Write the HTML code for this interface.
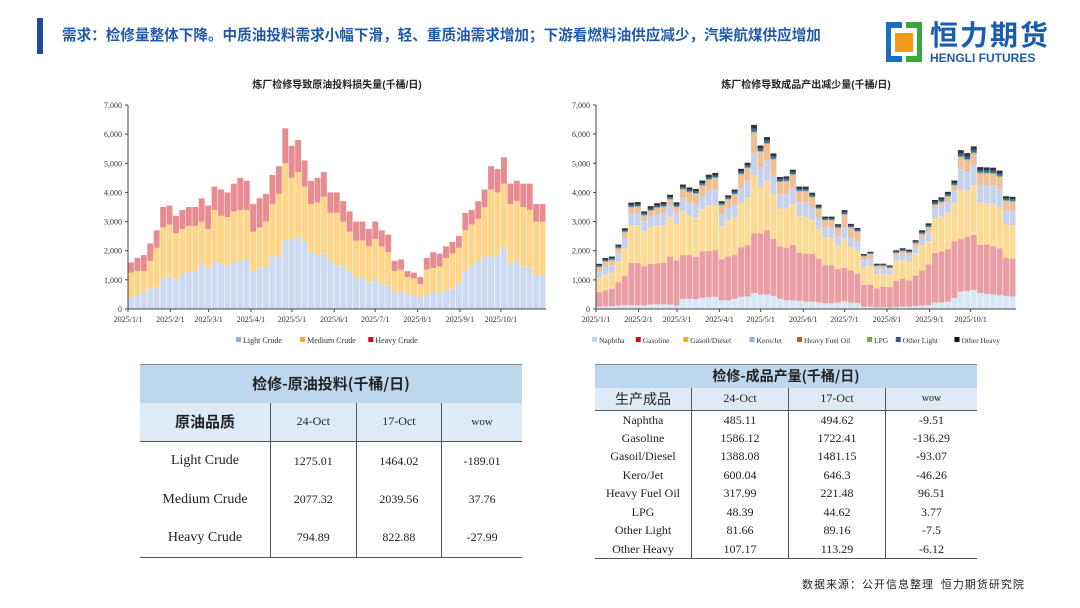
<!DOCTYPE html>
<html><head><meta charset="utf-8"><style>
body{margin:0;width:1080px;height:608px;background:#fff;position:relative;overflow:hidden;font-family:"Liberation Serif","Noto Serif CJK SC",serif}
.abs{position:absolute}
table{border-collapse:collapse;position:absolute;font-family:"Liberation Serif","Noto Sans CJK SC",serif;color:#222}
td{text-align:center;padding:0}
</style></head><body>
<div class="abs" style="left:37px;top:18px;width:6px;height:36px;background:#1f4e9c"></div>
<div class="abs" style="left:62px;top:24px;font:bold 14.6px 'Liberation Sans','Noto Sans CJK SC',sans-serif;color:#1f5aa8;white-space:nowrap">需求：检修量整体下降。中质油投料需求小幅下滑，轻、重质油需求增加；下游看燃料油供应减少，汽柴航煤供应增加</div>
<div class="abs" style="left:884px;top:20px;width:180px;height:44px">
<svg width="40" height="44"><rect x="2" y="2" width="16" height="40" fill="#1a6fc0"/><rect x="22" y="2" width="16" height="40" fill="#3aa53a"/><rect x="7" y="8" width="26" height="28" fill="#fff"/><rect x="11" y="13" width="18" height="19" fill="#f29a1a"/></svg>
<div class="abs" style="left:46px;top:-2px;font:bold 28px 'Noto Sans CJK SC',sans-serif;color:#1a5cad;letter-spacing:2px;line-height:32px">恒力期货</div>
<div class="abs" style="left:46px;top:31px;font:bold 12px 'Liberation Sans',sans-serif;color:#1a5cad;white-space:nowrap">HENGLI FUTURES</div>
</div>
<svg id="c1" class="abs" style="left:0;top:0" width="1080" height="360"></svg>

<table style="left:140px;top:364px;width:382px;font-size:14px">
<tr style="height:38px;background:#bdd7ee;border-top:1px solid #888"><td colspan="4" style="font:bold 15px 'Noto Sans CJK SC',sans-serif">检修-原油投料(千桶/日)</td></tr>
<tr style="height:39px;background:#ddebf7;border-bottom:1px solid #555"><td style="width:130px;border-right:1px solid #555;font:bold 15px 'Noto Sans CJK SC',sans-serif">原油品质</td><td style="border-right:1px solid #555;font-size:12px">24-Oct</td><td style="border-right:1px solid #555;font-size:12px">17-Oct</td><td style="font-size:11px">wow</td></tr>
<tr style="height:39px"><td style="border-right:1px solid #555">Light Crude</td><td style="border-right:1px solid #555;font-size:12px">1275.01</td><td style="border-right:1px solid #555;font-size:12px">1464.02</td><td style="font-size:12px">-189.01</td></tr>
<tr style="height:38px"><td style="border-right:1px solid #555">Medium Crude</td><td style="border-right:1px solid #555;font-size:12px">2077.32</td><td style="border-right:1px solid #555;font-size:12px">2039.56</td><td style="font-size:12px">37.76</td></tr>
<tr style="height:39px;border-bottom:1px solid #555"><td style="border-right:1px solid #555">Heavy Crude</td><td style="border-right:1px solid #555;font-size:12px">794.89</td><td style="border-right:1px solid #555;font-size:12px">822.88</td><td style="font-size:12px">-27.99</td></tr>
</table>

<table style="left:595px;top:364px;width:382px;font-size:12px">
<tr style="height:23px;background:#bdd7ee;border-top:1px solid #888"><td colspan="4" style="font:bold 14px 'Noto Sans CJK SC',sans-serif">检修-成品产量(千桶/日)</td></tr>
<tr style="height:23px;background:#ddebf7;border-bottom:1px solid #555"><td style="width:96px;border-right:1px solid #555;font:14px 'Noto Sans CJK SC',sans-serif">生产成品</td><td style="width:96px;border-right:1px solid #555">24-Oct</td><td style="width:96px;border-right:1px solid #555">17-Oct</td><td style="font-size:10px">wow</td></tr>
<tr style="height:18.5px"><td style="border-right:1px solid #555">Naphtha</td><td style="border-right:1px solid #555">485.11</td><td style="border-right:1px solid #555">494.62</td><td>-9.51</td></tr>
<tr style="height:18.5px"><td style="border-right:1px solid #555">Gasoline</td><td style="border-right:1px solid #555">1586.12</td><td style="border-right:1px solid #555">1722.41</td><td>-136.29</td></tr>
<tr style="height:18.5px"><td style="border-right:1px solid #555">Gasoil/Diesel</td><td style="border-right:1px solid #555">1388.08</td><td style="border-right:1px solid #555">1481.15</td><td>-93.07</td></tr>
<tr style="height:18.5px"><td style="border-right:1px solid #555">Kero/Jet</td><td style="border-right:1px solid #555">600.04</td><td style="border-right:1px solid #555">646.3</td><td>-46.26</td></tr>
<tr style="height:18.5px"><td style="border-right:1px solid #555">Heavy Fuel Oil</td><td style="border-right:1px solid #555">317.99</td><td style="border-right:1px solid #555">221.48</td><td>96.51</td></tr>
<tr style="height:18.5px"><td style="border-right:1px solid #555">LPG</td><td style="border-right:1px solid #555">48.39</td><td style="border-right:1px solid #555">44.62</td><td>3.77</td></tr>
<tr style="height:18.5px"><td style="border-right:1px solid #555">Other Light</td><td style="border-right:1px solid #555">81.66</td><td style="border-right:1px solid #555">89.16</td><td>-7.5</td></tr>
<tr style="height:18.5px;border-bottom:1px solid #555"><td style="border-right:1px solid #555">Other Heavy</td><td style="border-right:1px solid #555">107.17</td><td style="border-right:1px solid #555">113.29</td><td>-6.12</td></tr>
</table>
<div class="abs" style="left:802px;top:576px;font:11px 'Noto Sans CJK SC',sans-serif;color:#222;letter-spacing:1px;white-space:nowrap">数据来源：公开信息整理&nbsp; 恒力期货研究院</div>

<script>
const yTicks=[0,1000,2000,3000,4000,5000,6000,7000];
const monthLabels=['2025/1/1','2025/2/1','2025/3/1','2025/4/1','2025/5/1','2025/6/1','2025/7/1','2025/8/1','2025/9/1','2025/10/1'];
const monthDays=[0,31,59,90,120,151,181,212,243,273];
const lightCrude=[400,500,550,700,750,1050,1100,1000,1200,1300,1300,1550,1400,1600,1550,1500,1600,1650,1700,1300,1400,1450,1800,1800,2350,2400,2500,2300,1950,1850,1900,1650,1500,1450,1300,1100,1100,900,1000,850,800,550,600,500,480,400,500,550,550,650,700,900,1300,1500,1650,1800,1800,1850,2100,1550,1650,1450,1400,1150,1150];
const mediumCrude=[850,800,750,950,1350,1750,1800,1600,1550,1550,1550,1450,1350,1800,1650,1650,1750,1750,1700,1350,1400,1550,1800,2150,2650,2100,2200,1900,1650,1800,1950,1650,1800,1550,1350,1250,1250,1250,1400,1300,1150,750,750,600,570,450,850,850,900,1100,1200,1200,1400,1400,1450,1700,2300,2150,2200,2050,2050,2050,2000,1850,1850];
const heavyCrude=[350,450,550,600,600,700,650,600,650,650,650,800,800,800,900,850,950,1100,1000,950,1000,950,1000,950,1200,1100,1100,900,800,850,850,700,700,700,700,650,650,600,600,550,600,350,350,200,200,250,400,550,450,400,400,400,600,500,600,600,800,800,900,700,700,800,900,600,600];
const naphtha=[80,90,100,120,130,130,130,120,150,160,160,150,120,350,350,340,380,400,420,300,300,350,420,430,550,500,500,450,350,300,300,280,250,250,230,200,200,220,260,220,200,80,80,60,60,50,60,80,80,100,120,130,220,230,250,380,600,620,650,550,520,500,480,450,430];
const gasoline=[500,550,600,800,1000,1450,1450,1350,1400,1400,1420,1650,1550,1500,1500,1450,1600,1600,1600,1400,1500,1500,1700,1750,2050,2100,2200,1950,1800,1800,1900,1650,1650,1650,1500,1300,1300,1150,1150,1100,1000,750,750,650,700,700,900,950,900,1050,1200,1400,1700,1750,1800,1950,1800,1850,1900,1650,1700,1650,1600,1300,1300];
const gasoil=[500,550,550,700,950,1300,1300,1200,1250,1300,1300,1350,1250,1500,1350,1350,1450,1550,1550,1150,1250,1300,1500,1650,2000,1600,1700,1550,1300,1350,1400,1250,1250,1150,1000,950,950,800,1000,800,800,600,650,500,450,430,700,650,650,750,850,800,1200,1200,1250,1300,1700,1600,1700,1450,1400,1450,1400,1150,1150];
const kero=[200,250,250,300,350,400,400,350,380,400,400,400,380,450,450,450,450,500,520,400,420,430,550,550,750,650,700,650,500,500,550,500,500,450,400,350,350,330,380,330,320,250,270,200,200,180,200,230,230,250,280,320,350,380,400,450,700,650,700,600,620,650,650,500,500];
const hfo=[150,180,170,150,200,200,220,180,180,200,220,200,190,300,350,360,350,380,400,300,280,350,450,450,700,530,560,520,400,420,450,350,380,330,300,240,240,280,450,340,330,120,130,60,60,50,60,70,70,100,120,150,100,100,150,150,400,380,380,400,400,380,400,300,300];
const lpg=[20,20,20,30,30,30,30,30,30,30,30,30,30,30,30,30,30,30,30,30,30,30,30,30,40,40,40,40,30,30,30,30,30,30,30,20,20,20,20,20,20,15,15,15,15,15,15,15,15,20,20,20,30,30,30,30,40,40,40,40,40,40,40,30,30];
const otherLight=[50,50,50,50,50,60,60,50,60,60,60,60,60,60,60,60,60,60,60,50,50,60,70,70,100,90,90,80,70,70,70,60,60,60,50,50,50,50,60,50,50,30,30,30,30,30,40,40,40,40,50,50,60,60,60,60,90,90,90,80,80,80,80,60,60];
const otherHeavy=[50,60,60,60,60,80,80,70,80,80,80,80,80,80,80,80,90,90,90,70,70,80,90,90,130,100,110,100,80,80,80,80,80,70,70,60,60,60,70,60,60,40,40,40,40,40,40,50,50,50,60,70,80,80,80,90,120,120,120,100,100,100,100,80,80];

const svg=document.getElementById('c1');const NS='http://www.w3.org/2000/svg';
function mk(tag,attrs,parent){const e=document.createElementNS(NS,tag);for(const k in attrs)e.setAttribute(k,attrs[k]);(parent||svg).appendChild(e);return e;}
function chart(x0,x1,title,name,series,colors,names,legend){
  const y0=309,yT=105,ymax=7000,days=306;
  const ys=v=>y0-(v/ymax)*(y0-yT);
  const xs=d=>x0+(d/days)*(x1-x0);
  const g=mk('g',{});
  
  
  const t=mk('text',{x:(x0+x1)/2,y:88,'text-anchor':'middle','font-size':10,'font-weight':'bold','font-family':"'Liberation Sans','Noto Sans CJK SC',sans-serif",fill:'#222'},g);t.textContent=title;
  
  
  yTicks.forEach(v=>{const l=mk('text',{x:x0-6,y:ys(v)+3,'text-anchor':'end','font-size':8,fill:'#333'},g);l.textContent=v.toLocaleString('en-US');
    
    });
  const n=series[0].length,step=(x1-x0)/n;
  for(let i=0;i<n;i++){let acc=0;
    series.forEach((s,si)=>{const v=s[i];const r=mk('rect',{x:x0+i*step,y:ys(acc+v),width:step*0.92,height:ys(acc)-ys(acc+v),fill:colors[si]},g);
      
      
      acc+=v;});}
  mk('line',{x1:x0,y1:yT,x2:x0,y2:y0,stroke:'#444','stroke-width':1},g);
  mk('line',{x1:x0,y1:y0,x2:x1,y2:y0,stroke:'#444','stroke-width':1},g);
  yTicks.forEach(v=>mk('line',{x1:x0-3,y1:ys(v),x2:x0,y2:ys(v),stroke:'#444'},g));
  monthDays.forEach((d,i)=>{mk('line',{x1:xs(d),y1:y0,x2:xs(d),y2:y0+3,stroke:'#444'},g);
    const l=mk('text',{x:xs(d),y:y0+13,'text-anchor':'middle','font-size':8,fill:'#333'},g);l.textContent=monthLabels[i];
    
    });
  let lx=legend.x;
  legend.items.forEach((it,i)=>{mk('rect',{x:lx,y:337,width:5,height:5,fill:legend.colors[i]},g);
    const l=mk('text',{x:lx+7,y:343,'font-size':legend.fs,fill:'#333'},g);l.textContent=it;
    
    
    lx+=7+it.length*legend.cw+legend.gap;});
}
chart(128,546,'炼厂检修导致原油投料损失量(千桶/日)','crude-loss-bars',[lightCrude,mediumCrude,heavyCrude],['#ccdaf1','#fdd68a','#e88c92'],['light','medium','heavy'],
 {x:236,items:['Light Crude','Medium Crude','Heavy Crude'],colors:['#8fb0e0','#f7a823','#c5131b'],fs:8,cw:4.1,gap:12});
chart(596,1016,'炼厂检修导致成品产出减少量(千桶/日)','product-loss-bars',[naphtha,gasoline,gasoil,kero,hfo,lpg,otherLight,otherHeavy],['#d8e7f6','#e89ea2','#fddb96','#c7d3ed','#f0bf95','#7fbf6a','#3a66a8','#333'],['naphtha','gasoline','gasoil','kero','hfo','lpg','other-light','other-heavy'],
 {x:592,items:['Naphtha','Gasoline','Gasoil/Diesel','Kero/Jet','Heavy Fuel Oil','LPG','Other Light','Other Heavy'],colors:['#bcd7f0','#c5131b','#f7a823','#8fb0e0','#c55a11','#70ad47','#2e5a9c','#111'],fs:7.5,cw:3.75,gap:10.5});
</script>
</body></html>
